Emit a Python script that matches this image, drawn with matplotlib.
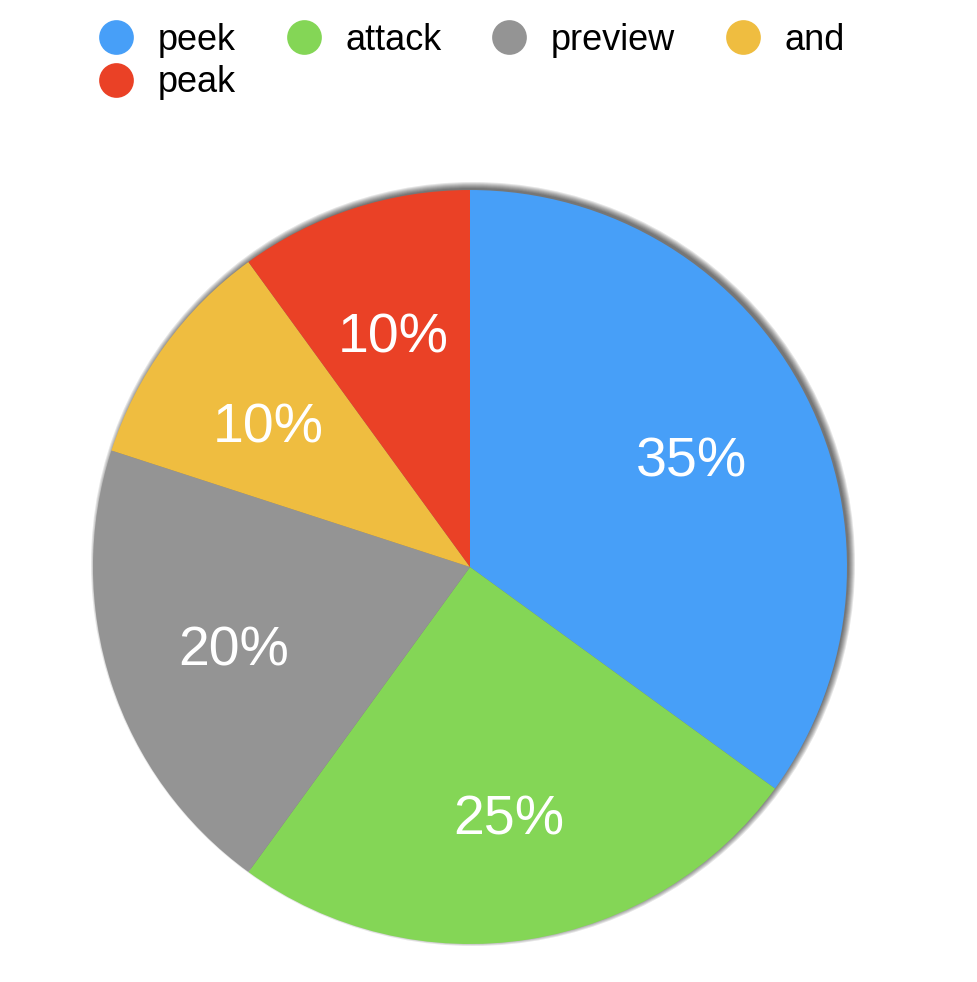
import matplotlib.pyplot as plt
from matplotlib.lines import Line2D
from matplotlib.patches import Circle

# Slice data (clockwise from 12 o'clock)
labels = ['peek', 'attack', 'preview', 'and', 'peak']
values = [35, 25, 20, 10, 10]
colors = ['#479ff8', '#84d656', '#949494', '#efbd40', '#ea4126']

plt.rcParams['font.family'] = ['Liberation Sans', 'DejaVu Sans']

fig = plt.figure(figsize=(9.78, 9.82), dpi=100)
# pie centre at (470, 567) px, radius 377 px
ax = fig.add_axes([93 / 978, 38 / 982, 754 / 978, 754 / 982])
ax.set_xlim(-1, 1)
ax.set_ylim(-1, 1)
ax.set_aspect('equal')
ax.axis('off')

# soft drop shadow, thrown up and to the right
px = 1 / 377
for k in range(-1, 6):
    ax.add_patch(Circle((3 * px, 3 * px), 1 + k * px, color='black',
                        alpha=0.1, lw=0, zorder=0, clip_on=False))

wedges, texts, autotexts = ax.pie(
    values, colors=colors, startangle=90, counterclock=False, radius=1,
    autopct='%d%%', pctdistance=0.66,
    textprops={'color': 'white', 'fontsize': 40},
    wedgeprops={'linewidth': 0, 'zorder': 2})
for t in autotexts:
    t.set_zorder(3)
    x, y = t.get_position()
    t.set_position((x, y - 8 * px))
ax.set_xlim(-1, 1)
ax.set_ylim(-1, 1)

# legend, row-major order with 4 columns
order = [0, 4, 1, 2, 3]
handles = [Line2D([], [], linestyle='none', marker='o', markersize=25,
                  markerfacecolor=colors[i], markeredgewidth=0) for i in order]
fig.legend(handles, [labels[i] for i in order], ncol=4, frameon=False,
           loc='upper left', bbox_to_anchor=(98 / 978, 1 - 23 / 982),
           fontsize=26, handlelength=1.0, handletextpad=0.65,
           columnspacing=1.38, labelspacing=0.2, borderpad=0, borderaxespad=0)

fig.savefig('out.png', dpi=100, facecolor='white')
